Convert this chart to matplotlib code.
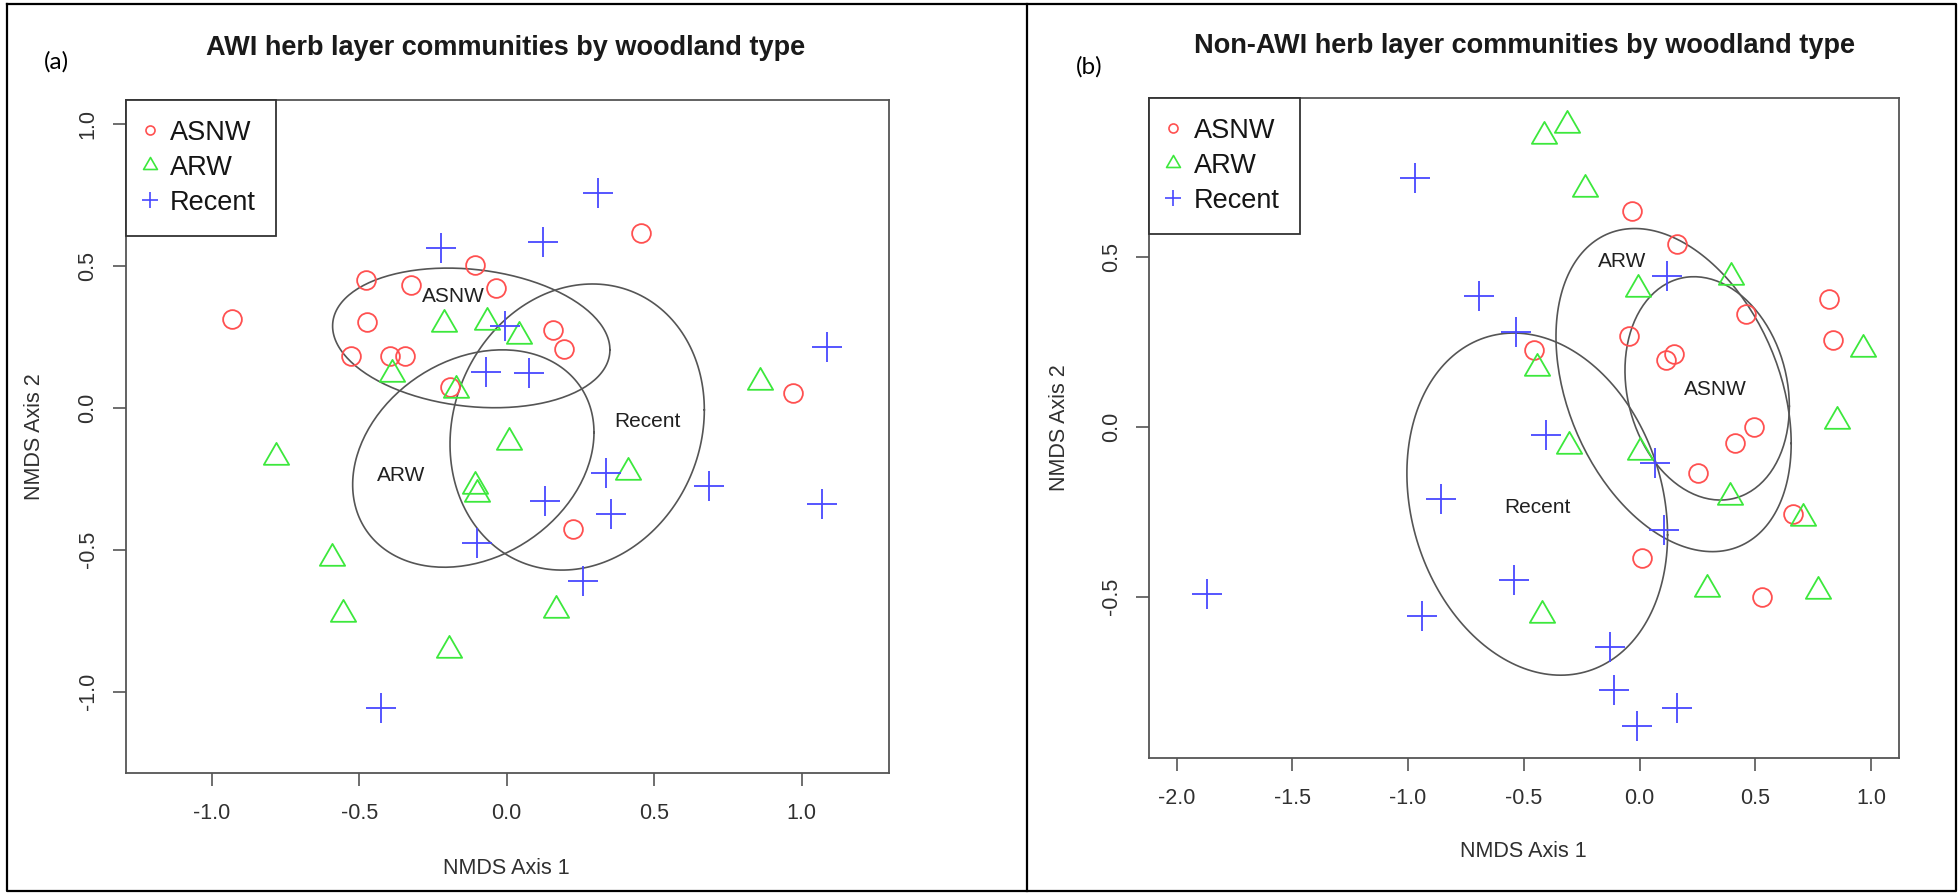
import numpy as np
import matplotlib
matplotlib.use("Agg")
import matplotlib.pyplot as plt
from matplotlib.lines import Line2D
from matplotlib.path import Path

plt.rcParams['font.family'] = ['Liberation Sans', 'DejaVu Sans']

W, H, DPI = 1959, 893, 100

groups = ["ASNW", "ARW", "Recent"]
colors = {"ASNW": "#ff5050", "ARW": "#3ce83c", "Recent": "#4848ff"}

# ---------------- (a) AWI herb layer NMDS scores ----------------
awi_asnw_x = [-0.932, -0.477, -0.324, -0.107, -0.037, -0.473, -0.528, -0.396,
              -0.345, -0.192, 0.454, 0.156, 0.194, 0.972, 0.226]
awi_asnw_y = [0.313, 0.450, 0.433, 0.504, 0.422, 0.301, 0.184, 0.184,
              0.184, 0.072, 0.616, 0.274, 0.207, 0.052, -0.426]
awi_arw_x = [-0.212, -0.068, 0.043, -0.390, -0.172, 0.859, -0.782, -0.107,
             -0.100, -0.593, -0.554, -0.196, 0.009, 0.410, 0.166]
awi_arw_y = [0.295, 0.302, 0.254, 0.119, 0.064, 0.091, -0.174, -0.274,
             -0.304, -0.530, -0.727, -0.853, -0.122, -0.227, -0.712]
awi_recent_x = [-0.224, -0.006, -0.070, 0.308, 0.122, 0.076, 1.085, -0.102,
                -0.427, 0.337, 0.130, 0.353, 0.686, 1.070, 0.258]
awi_recent_y = [0.563, 0.289, 0.125, 0.757, 0.585, 0.123, 0.215, -0.477,
                -1.059, -0.229, -0.327, -0.375, -0.274, -0.339, -0.609]

# group ellipses: centre x, centre y, x half-range, y half-range, correlation
awi_ell_cx = [-0.120, -0.113, 0.239]
awi_ell_cy = [0.246, -0.179, -0.068]
awi_ell_sx = [0.470, 0.409, 0.431]
awi_ell_sy = [0.246, 0.383, 0.504]
awi_ell_r = [-0.17, 0.24, 0.12]
awi_lab_x = [-0.179, -0.359, 0.476]
awi_lab_y = [0.392, -0.238, -0.047]

awi_xticks = [-1.0, -0.5, 0.0, 0.5, 1.0]
awi_yticks = [-1.0, -0.5, 0.0, 0.5, 1.0]
awi_xlim = (-1.292, 1.297)
awi_ylim = (-1.288, 1.086)

# ---------------- (b) Non-AWI herb layer NMDS scores ----------------
non_asnw_x = [-0.031, 0.161, 0.819, 0.460, -0.044, 0.834, 0.113, 0.150,
              -0.454, 0.496, 0.413, 0.254, 0.664, 0.009, 0.530]
non_asnw_y = [0.638, 0.540, 0.378, 0.334, 0.267, 0.257, 0.199, 0.216,
              0.228, 0.000, -0.048, -0.136, -0.257, -0.385, -0.500]
non_arw_x = [-0.413, -0.315, -0.235, 0.394, -0.008, 0.967, -0.444, 0.852,
             -0.305, 0.000, 0.391, 0.705, 0.290, 0.770, -0.420]
non_arw_y = [0.859, 0.889, 0.702, 0.442, 0.406, 0.231, 0.175, 0.018,
             -0.057, -0.072, -0.205, -0.268, -0.477, -0.482, -0.554]
non_recent_x = [-0.971, -0.695, -0.535, 0.117, -0.859, -1.867, -0.940, -0.543,
                -0.404, 0.067, 0.107, -0.127, -0.109, 0.161, -0.010]
non_recent_y = [0.733, 0.386, 0.280, 0.445, -0.212, -0.491, -0.557, -0.451,
                -0.024, -0.107, -0.303, -0.647, -0.775, -0.827, -0.880]

non_ell_cx = [0.292, 0.147, -0.442]
non_ell_cy = [0.114, 0.109, -0.227]
non_ell_sx = [0.355, 0.508, 0.563]
non_ell_sy = [0.329, 0.476, 0.504]
non_ell_r = [-0.16, -0.33, -0.18]
non_lab_x = [0.326, -0.076, -0.439]
non_lab_y = [0.111, 0.488, -0.236]

non_xticks = [-2.0, -1.5, -1.0, -0.5, 0.0, 0.5, 1.0]
non_yticks = [-0.5, 0.0, 0.5]
non_xlim = (-2.119, 1.122)
non_ylim = (-0.975, 0.971)

# R-style open triangle (centroid at the data point)
TRI = Path([(0, 1), (-0.866, -0.5), (0.866, -0.5), (0, 1)],
           [Path.MOVETO, Path.LINETO, Path.LINETO, Path.CLOSEPOLY])
markers = {"ASNW": ("o", 13.5), "ARW": (TRI, 21.0), "Recent": ("+", 21.0)}
legend_sizes = {"ASNW": 6.5, "ARW": 11.5, "Recent": 11.5}

GREY = "#555555"
TXT = "#303030"


def fx(x):
    return x / W


def fy(y):
    return 1 - y / H


def ellipse(cx, cy, sx, sy, r, n=200):
    t = np.linspace(0, 2 * np.pi, n)
    ex = cx + sx * np.cos(t)
    ey = cy + r * sy * np.cos(t) + sy * np.sqrt(1 - r * r) * np.sin(t)
    return ex, ey


def panel(ax, pts, ell, labs, xticks, yticks, xlim, ylim):
    for g in groups:
        x, y = pts[g]
        m, s = markers[g]
        ax.plot(x, y, ls="none", marker=m, ms=s, mfc="none", mec=colors[g],
                mew=1.3, zorder=3)
    cx, cy, sx, sy, rr = ell
    for i in range(3):
        ex, ey = ellipse(cx[i], cy[i], sx[i], sy[i], rr[i])
        ax.plot(ex, ey, color=GREY, lw=1.2, zorder=2)
    lx, ly, names = labs
    for i in range(3):
        ax.text(lx[i], ly[i], names[i], ha="center", va="center",
                fontsize=15, color="#202020", zorder=4)
    ax.set_xlim(*xlim)
    ax.set_ylim(*ylim)
    ax.set_xticks(xticks)
    ax.set_xticklabels([f"{v:.1f}" for v in xticks])
    ax.set_yticks(yticks)
    ax.set_yticklabels([f"{v:.1f}" for v in yticks], rotation=90, va="center")
    for sp in ax.spines.values():
        sp.set_color(GREY)
        sp.set_linewidth(1.3)
    ax.tick_params(axis="both", length=9.4, width=1.2, color=GREY,
                   labelsize=15.5, labelcolor=TXT)
    ax.tick_params(axis="x", pad=12)
    ax.tick_params(axis="y", pad=10)
    handles = [Line2D([], [], ls="none", marker=markers[g][0],
                      ms=legend_sizes[g], mfc="none", mec=colors[g], mew=1.2)
               for g in groups]
    leg = ax.legend(handles, groups, loc="upper left", bbox_to_anchor=(0, 1),
                    borderaxespad=0, fancybox=False, framealpha=1,
                    edgecolor="#333333", fontsize=19.5, borderpad=0.75,
                    handlelength=0.3, handletextpad=0.6, labelspacing=0.33)
    leg.get_frame().set_linewidth(1.3)
    for t in leg.get_texts():
        t.set_color("#151515")


fig = plt.figure(figsize=(W / DPI, H / DPI), dpi=DPI)

ax_a = fig.add_axes([fx(125.5), fy(773.3), (889.3 - 125.5) / W, (773.3 - 99.5) / H])
panel(ax_a,
      {"ASNW": (awi_asnw_x, awi_asnw_y), "ARW": (awi_arw_x, awi_arw_y),
       "Recent": (awi_recent_x, awi_recent_y)},
      (awi_ell_cx, awi_ell_cy, awi_ell_sx, awi_ell_sy, awi_ell_r),
      (awi_lab_x, awi_lab_y, ["ASNW", "ARW", "Recent"]),
      awi_xticks, awi_yticks, awi_xlim, awi_ylim)

ax_b = fig.add_axes([fx(1149), fy(758), (1899.3 - 1149) / W, (758 - 97.5) / H])
panel(ax_b,
      {"ASNW": (non_asnw_x, non_asnw_y), "ARW": (non_arw_x, non_arw_y),
       "Recent": (non_recent_x, non_recent_y)},
      (non_ell_cx, non_ell_cy, non_ell_sx, non_ell_sy, non_ell_r),
      (non_lab_x, non_lab_y, ["ASNW", "ARW", "Recent"]),
      non_xticks, non_yticks, non_xlim, non_ylim)

# titles, axis labels and panel letters
fig.text(fx(506), fy(55), "AWI herb layer communities by woodland type",
         ha="center", va="baseline", fontsize=19.5, fontweight="bold", color="#1a1a1a")
fig.text(fx(1525), fy(53.3), "Non-AWI herb layer communities by woodland type",
         ha="center", va="baseline", fontsize=19.5, fontweight="bold", color="#1a1a1a")
fig.text(fx(506), fy(868), "NMDS Axis 1", ha="center", va="center",
         fontsize=15.5, color=TXT)
fig.text(fx(1523.5), fy(851.7), "NMDS Axis 1", ha="center", va="center",
         fontsize=15.5, color=TXT)
fig.text(fx(35), fy(436.5), "NMDS Axis 2", ha="center", va="center",
         rotation=90, fontsize=15.5, color=TXT)
fig.text(fx(1059.5), fy(428), "NMDS Axis 2", ha="center", va="center",
         rotation=90, fontsize=15.5, color=TXT)
fig.text(fx(56.5), fy(62), "(a)", ha="center", va="center", fontsize=17.5,
         family=["Lato", "DejaVu Sans"], color="black")
fig.text(fx(1089), fy(66.7), "(b)", ha="center", va="center", fontsize=17.5,
         family=["Lato", "DejaVu Sans"], color="black")

# surrounding table frame
frame_kw = dict(transform=fig.transFigure, color="black", lw=1.6)
L, R, T, B, M = 7, 1956, 4, 891, 1027
fig.add_artist(Line2D([fx(L), fx(R), fx(R), fx(L), fx(L)],
                      [fy(T), fy(T), fy(B), fy(B), fy(T)], **frame_kw))
fig.add_artist(Line2D([fx(M), fx(M)], [fy(T), fy(B)], **frame_kw))

fig.savefig("out.png", dpi=DPI, facecolor="white")
